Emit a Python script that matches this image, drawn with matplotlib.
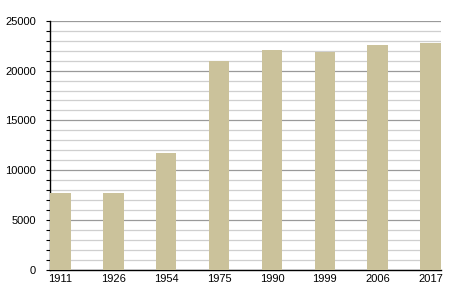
import matplotlib
matplotlib.use("Agg")
import matplotlib.pyplot as plt
from matplotlib.ticker import MultipleLocator

years = ["1911", "1926", "1954", "1975", "1990", "1999", "2006", "2017"]
population = [7730, 7750, 11730, 21000, 22100, 21830, 22600, 22730]

plt.rcParams['font.family'] = ['Liberation Sans', 'DejaVu Sans']

fig = plt.figure(figsize=(4.5, 3), dpi=100)
ax = fig.add_axes([0.111, 0.1, 0.869, 0.831])

width = 0.39
x = range(len(years))
ax.bar(x, population, width=width, color="#cbc29b", zorder=3)

ax.set_xlim(-width / 2, len(years) - 1 + width / 2)
ax.set_ylim(0, 25000)
ax.yaxis.set_major_locator(MultipleLocator(5000))
ax.yaxis.set_minor_locator(MultipleLocator(1000))
ax.grid(axis="y", which="major", color="#9a9a9a", linewidth=0.9, zorder=0)
ax.grid(axis="y", which="minor", color="#cfcfcf", linewidth=0.9, zorder=0)

ax.set_xticks(list(x))
ax.set_xticklabels(years)
ax.tick_params(axis="x", length=0, pad=3, labelsize=8)
ax.tick_params(axis="y", which="both", length=3, width=0.8, labelsize=8, pad=7)

for side in ["top", "right"]:
    ax.spines[side].set_visible(False)
ax.spines["left"].set_linewidth(1)
ax.spines["bottom"].set_linewidth(1)

fig.savefig("out.png", dpi=100)
